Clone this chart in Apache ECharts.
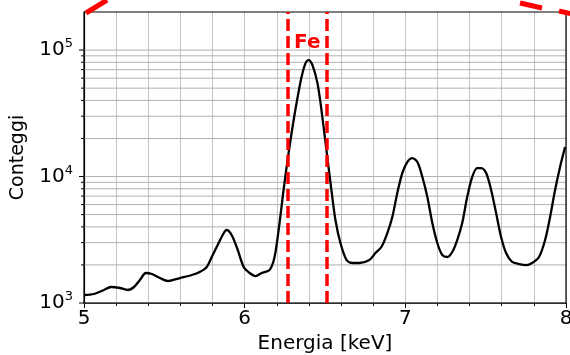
<!DOCTYPE html>
<html>
<head>
<meta charset="utf-8">
<script src="https://cdn.jsdelivr.net/npm/echarts@6/dist/echarts.min.js"></script>
<style>
    html, body { margin: 0; padding: 0; background: #fff; }
    #spectrumChart { width: 570px; height: 355px; }
</style>
</head>
<body>
<div id="spectrumChart"></div>
<script>
// energia in keV
var energy = [
    5.000, 5.062, 5.124, 5.168, 5.224, 5.273, 5.311, 5.348, 5.385, 5.422,
    5.472, 5.522, 5.596, 5.671, 5.720, 5.764, 5.795, 5.832, 5.870, 5.888,
    5.919, 5.957, 5.994, 6.031, 6.068, 6.106, 6.155, 6.186, 6.217, 6.242,
    6.267, 6.292, 6.323, 6.354, 6.379, 6.398, 6.422, 6.453, 6.478, 6.509,
    6.540, 6.565, 6.596, 6.634, 6.671, 6.714, 6.776, 6.814, 6.851, 6.888,
    6.919, 6.950, 6.981, 7.012, 7.043, 7.075, 7.106, 7.137, 7.168, 7.199,
    7.230, 7.261, 7.292, 7.323, 7.354, 7.385, 7.416, 7.447, 7.472, 7.503,
    7.534, 7.565, 7.596, 7.627, 7.665, 7.708, 7.752, 7.789, 7.832, 7.870,
    7.901, 7.932, 7.963, 7.994
];
// conteggi
var counts = [
    1157, 1178, 1267, 1338, 1314, 1267, 1338, 1520, 1727, 1695,
    1576, 1493, 1576, 1665, 1758, 1926, 2310, 2873, 3575, 3777,
    3449, 2624, 1926, 1727, 1634, 1727, 1823, 2310, 4289, 7820,
    13500, 22080, 38100, 61200, 78900, 83400, 76100, 54800, 33550, 16200,
    7820, 4530, 2980, 2188, 2071, 2071, 2188, 2485, 2771, 3575,
    4786, 7410, 10660, 13020, 14000, 13020, 9910, 6880, 4289, 2980,
    2395, 2310, 2530, 3148, 4289, 6880, 9910, 11670, 11670, 10660,
    7820, 5145, 3325, 2485, 2110, 2034, 1995, 2071, 2310, 3148,
    4786, 7820, 11890, 17100
];
// finestra del ferro
var feWindow = [6.27, 6.51];
var feLabelPos = [6.39, 113500];
var yRange = [1000, 200000];
var xTicks = [5, 6, 7, 8];

// griglia orizzontale: 1..9 x 10^k (il bordo superiore resta nero)
var yGrid = [];
for (var k = 3; k <= 5; k++) {
    for (var m = 1; m <= 9; m++) {
        var v = m * Math.pow(10, k);
        if (v < yRange[1]) yGrid.push([5, v, m === 1 ? 1 : 0]);
    }
}

var spectrumChart = echarts.init(document.getElementById('spectrumChart'));
var font = 'DejaVu Sans';

var option = {
    animation: false,
    grid: {
        left: 84,
        right: 4,
        top: 12,
        bottom: 52,
        outerBoundsMode: 'none',
        containLabel: false,
        show: true,
        z: 2,
        borderColor: '#000',
        borderWidth: 1.2
    },
    graphic: [
        // linee di collegamento tratteggiate (fuori dal grafico)
        {type: 'line', z: 10, shape: {x1: 86, y1: 13, x2: 107, y2: 0}, style: {stroke: '#ff0000', lineWidth: 5}},
        {type: 'line', z: 10, shape: {x1: 520, y1: 3, x2: 542, y2: 8}, style: {stroke: '#ff0000', lineWidth: 5}},
        {type: 'line', z: 10, shape: {x1: 559, y1: 11, x2: 572, y2: 14}, style: {stroke: '#ff0000', lineWidth: 5}}
    ],
    xAxis: {
        type: 'value',
        min: xTicks[0],
        max: xTicks[xTicks.length - 1],
        interval: 1,
        name: 'Energia [keV]',
        nameLocation: 'middle',
        nameGap: 31,
        nameTextStyle: {fontFamily: font, fontSize: 20, color: '#000'},
        axisLine: {lineStyle: {color: '#000', width: 1.2}},
        axisTick: {length: 5, lineStyle: {color: '#000', width: 1}},
        minorTick: {show: true, splitNumber: 5, length: 3, lineStyle: {color: '#000', width: 1}},
        axisLabel: {fontFamily: font, fontSize: 20, color: '#000', margin: 6},
        splitLine: {show: true, lineStyle: {color: '#c4c4c4', width: 1}},
        minorSplitLine: {show: true, lineStyle: {color: '#c4c4c4', width: 1}}
    },
    yAxis: {
        type: 'log',
        logBase: 10,
        min: yRange[0],
        max: yRange[1],
        name: 'Conteggi',
        nameLocation: 'middle',
        nameGap: 56,
        nameTextStyle: {fontFamily: font, fontSize: 19, color: '#000'},
        axisLine: {lineStyle: {color: '#000', width: 1.2}},
        axisTick: {show: false},
        splitLine: {show: false},
        axisLabel: {
            margin: 11,
            formatter: function (val) {
                var e = Math.log10(val);
                if (Math.abs(e - Math.round(e)) > 1e-6) return '';
                return '{b|10}{s|' + Math.round(e) + '}';
            },
            rich: {
                b: {fontFamily: font, fontSize: 20, color: '#000'},
                s: {fontFamily: font, fontSize: 13, color: '#000', padding: [0, 0, 12, 0]}
            }
        }
    },
    series: [{
        // griglia e tacche dell'asse logaritmico
        type: 'custom',
        silent: true,
        clip: false,
        z: 1,
        data: yGrid,
        renderItem: function (params, api) {
            var cs = params.coordSys;
            var p = api.coord([api.value(0), api.value(1)]);
            var len = api.value(2) ? 5 : 3;
            return {
                type: 'group',
                children: [{
                    type: 'line',
                    shape: {x1: cs.x, y1: p[1], x2: cs.x + cs.width, y2: p[1]},
                    style: {stroke: '#b0b0b0', lineWidth: 1}
                }, {
                    type: 'line',
                    shape: {x1: cs.x - len, y1: p[1], x2: cs.x, y2: p[1]},
                    style: {stroke: '#000', lineWidth: 1}
                }]
            };
        }
    }, {
        type: 'line',
        data: energy.map(function (e, i) { return [e, counts[i]]; }),
        showSymbol: false,
        smooth: 0.3,
        z: 3,
        lineStyle: {color: '#000', width: 2.3},
        markLine: {
            silent: true,
            symbol: 'none',
            label: {show: false},
            lineStyle: {color: '#ff0000', width: 3.5, type: [12, 5]},
            data: feWindow.map(function (e) { return {xAxis: e}; })
        },
        markPoint: {
            silent: true,
            symbol: 'rect',
            symbolSize: 0,
            label: {
                show: true,
                position: 'inside',
                formatter: 'Fe',
                fontFamily: font,
                fontSize: 20,
                fontWeight: 'bold',
                color: '#ff0000'
            },
            data: [{coord: feLabelPos}]
        }
    }]
};
spectrumChart.setOption(option);
window.addEventListener('resize', function () {
    spectrumChart.resize();
});
</script>
</body>
</html>
